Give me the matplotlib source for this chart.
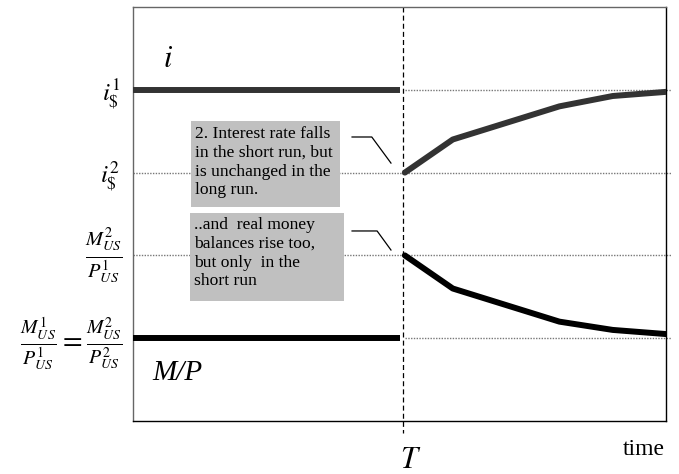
import matplotlib
matplotlib.use("Agg")
import matplotlib.pyplot as plt
from matplotlib.patches import Rectangle

plt.rcParams["font.family"] = ["Liberation Serif", "DejaVu Serif"]
plt.rcParams["mathtext.fontset"] = "stix"

# time axis (0..100), T = moment of the money supply increase
t_shock = 51
t_end = 100
t_after = [51, 60, 80, 90, 100]

# levels
i_1 = 80
i_2 = 60
mp_high = 40
mp_low = 20

interest_after = [60, 68, 76, 78.5, 79.5]
real_money_after = [40, 32, 24, 22, 21]

note_interest = "2. Interest rate falls\nin the short run, but\nis unchanged in the\nlong run."
note_money = "..and  real money\nbalances rise too,\nbut only  in the\nshort run"

fig = plt.figure(figsize=(6.79, 4.74), dpi=100)
ax = fig.add_axes([133 / 679, 1 - 421 / 474, 533 / 679, 414 / 474])
ax.set_xlim(0, 100)
ax.set_ylim(0, 100)
ax.set_xticks([])
ax.set_yticks([])
for side in ("left", "top"):
    ax.spines[side].set_color("#666666")
for side in ("right", "bottom"):
    ax.spines[side].set_color("black")
for sp in ax.spines.values():
    sp.set_linewidth(1.0)

# dotted reference levels
dot = dict(color="#777777", linestyle=(0, (1, 1)), linewidth=1.0, clip_on=False, zorder=1)
ax.plot([t_shock, t_end + 1], [i_1, i_1], **dot)
ax.plot([0, t_end + 1], [i_2, i_2], **dot)
ax.plot([0, t_end + 1], [mp_high, mp_high], **dot)
ax.plot([t_shock, t_end + 1], [mp_low, mp_low], **dot)

# T marker
ax.plot([t_shock - 0.3, t_shock - 0.3], [100, -3], color="black", linestyle=(0, (4, 2.5)),
        linewidth=0.9, clip_on=False, zorder=2)

# interest rate path
ax.plot([0, t_shock - 1], [i_1, i_1], color="#333333", linewidth=4.3, solid_capstyle="butt", zorder=3)
ax.plot(t_after, interest_after, color="#333333", linewidth=4.3, solid_capstyle="round", zorder=3)

# real money balances path
ax.plot([0, t_shock - 1], [mp_low, mp_low], color="black", linewidth=4.3, solid_capstyle="butt", zorder=3)
ax.plot(t_after, real_money_after, color="black", linewidth=4.3, solid_capstyle="round", zorder=3)

# annotation boxes
ax.add_patch(Rectangle((10.9, 51.7), 27.9, 20.8, facecolor="#c0c0c0", edgecolor="none",
                       zorder=4, clip_on=False))
ax.text(11.6, 71.2, note_interest, fontsize=12.6, va="top", ha="left", linespacing=1.22, zorder=5)
ax.add_patch(Rectangle((10.7, 29.0), 28.9, 21.2, facecolor="#c0c0c0", edgecolor="none",
                       zorder=4, clip_on=False))
ax.text(11.4, 49.2, note_money, fontsize=12.6, va="top", ha="left", linespacing=1.22, zorder=5)

# leader lines
ax.plot([41.1, 44.8, 48.4], [68.6, 68.6, 62.3], color="black", linewidth=0.9, zorder=5)
ax.plot([41.1, 45.8, 48.4], [45.9, 45.9, 41.3], color="black", linewidth=0.9, zorder=5)

# curve labels
ax.text(6.6, 87.2, "$i$", fontsize=22, ha="center", va="center")
ax.text(3.6, 11.5, "M/P", fontsize=21, style="italic", ha="left", va="center")
ax.text(52, -9.6, "$T$", fontsize=22, ha="center", va="center", clip_on=False)
ax.text(99.8, -7, "time", fontsize=17, ha="right", va="center", clip_on=False)

# level labels
ax.text(-2.4, i_1 - 0.8, r"$i_{\$}^{1}$", fontsize=18, ha="right", va="center")
ax.text(-2.4, i_2 - 0.8, r"$i_{\$}^{2}$", fontsize=18, ha="right", va="center")
ax.text(-2.0, mp_high - 0.3, r"$\frac{M_{US}^{2}}{P_{US}^{1}}$", fontsize=21, ha="right", va="center")
ax.text(-2.0, mp_low - 1.2, r"$\frac{M_{US}^{1}}{P_{US}^{1}}=\frac{M_{US}^{2}}{P_{US}^{2}}$",
        fontsize=20.5, ha="right", va="center")

fig.savefig("out.png", dpi=100)
